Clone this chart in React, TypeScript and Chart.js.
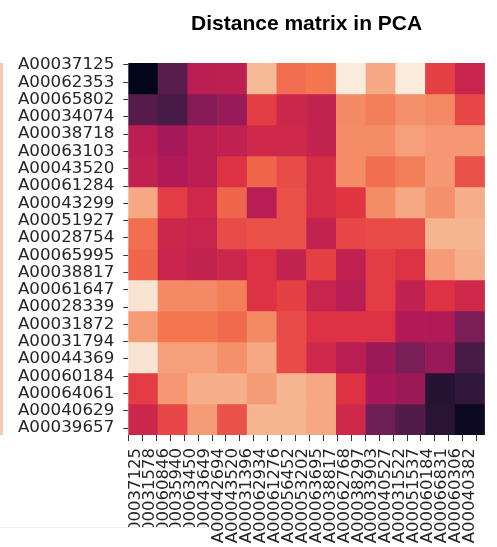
import React, { useEffect, useRef } from "react";
import { Chart, registerables } from "chart.js";

Chart.register(...registerables);

const chartTitle = "Distance matrix in PCA";

const yLabels = [
  "A00037125", "A00062353", "A00065802", "A00034074", "A00038718", "A00063103",
  "A00043520", "A00061284", "A00043299", "A00051927", "A00028754", "A00065995",
  "A00038817", "A00061647", "A00028339", "A00031872", "A00031794", "A00044369",
  "A00060184", "A00064061", "A00040629", "A00039657",
];

const xLabels = [
  "A00037125", "A00031578", "A00060846", "A00035940", "A00063450", "A00043649",
  "A00042694", "A00043520", "A00031396", "A00062934", "A00061276", "A00056452",
  "A00053202", "A00063695", "A00038817", "A00062768", "A00038297", "A00033903",
  "A00040527", "A00031522", "A00051537", "A00060184", "A00066831", "A00060306",
  "A00040382",
];

const cellColumns = ["c0", "c1", "c2", "c3", "c4", "c5", "c6", "c7", "c8", "c9", "c10", "c11"];

// normalised distance values per block row (0 = closest, 1 = farthest)
const row0 = [0.0, 0.23, 0.465, 0.47, 0.87, 0.7, 0.715, 1.0, 0.83, 1.0, 0.6, 0.5];
const row1 = [0.22, 0.19, 0.34, 0.38, 0.59, 0.51, 0.49, 0.76, 0.735, 0.775, 0.76, 0.615];
const row2 = [0.465, 0.41, 0.465, 0.48, 0.52, 0.52, 0.49, 0.765, 0.765, 0.81, 0.79, 0.79];
const row3 = [0.48, 0.44, 0.465, 0.56, 0.68, 0.625, 0.54, 0.765, 0.7, 0.735, 0.79, 0.635];
const row4 = [0.83, 0.59, 0.52, 0.68, 0.46, 0.635, 0.54, 0.575, 0.765, 0.83, 0.775, 0.845];
const row5 = [0.7, 0.51, 0.5, 0.625, 0.635, 0.635, 0.49, 0.615, 0.625, 0.625, 0.86, 0.86];
const row6 = [0.68, 0.5, 0.49, 0.51, 0.56, 0.49, 0.6, 0.48, 0.59, 0.56, 0.8, 0.845];
const row7 = [0.98, 0.76, 0.76, 0.735, 0.56, 0.6, 0.5, 0.46, 0.59, 0.48, 0.56, 0.52];
const row8 = [0.8, 0.715, 0.715, 0.69, 0.76, 0.625, 0.56, 0.56, 0.56, 0.44, 0.44, 0.31];
const row9 = [0.98, 0.81, 0.81, 0.775, 0.83, 0.625, 0.52, 0.46, 0.39, 0.31, 0.38, 0.19];
const row10 = [0.59, 0.79, 0.845, 0.845, 0.8, 0.86, 0.83, 0.56, 0.42, 0.39, 0.1, 0.13];
const row11 = [0.51, 0.615, 0.8, 0.635, 0.86, 0.86, 0.83, 0.52, 0.28, 0.21, 0.11, 0.03];

const distanceRows = [row0, row1, row2, row3, row4, row5, row6, row7, row8, row9, row10, row11];

// seaborn "rocket" colormap stops
const rocketStops: [number, number[]][] = [
  [0.0, [3, 5, 26]],
  [0.143, [53, 25, 62]],
  [0.286, [112, 31, 87]],
  [0.429, [173, 23, 89]],
  [0.571, [225, 51, 66]],
  [0.714, [243, 118, 81]],
  [0.857, [246, 180, 143]],
  [1.0, [250, 235, 221]],
];

function rocket(v: number): string {
  const t = Math.max(0, Math.min(1, v));
  for (let i = 0; i < rocketStops.length - 1; i++) {
    const [p0, c0] = rocketStops[i];
    const [p1, c1] = rocketStops[i + 1];
    if (t <= p1) {
      const f = (t - p0) / (p1 - p0);
      const c = c0.map((a, k) => Math.round(a + (c1[k] - a) * f));
      return `rgb(${c[0]},${c[1]},${c[2]})`;
    }
  }
  const last = rocketStops[rocketStops.length - 1][1];
  return `rgb(${last[0]},${last[1]},${last[2]})`;
}

const titlePlugin = {
  id: "centeredTitle",
  afterDraw(chart: any) {
    const { ctx, chartArea } = chart;
    ctx.save();
    ctx.font = 'bold 21px "Liberation Sans", Arial, sans-serif';
    ctx.fillStyle = "#000";
    ctx.textAlign = "center";
    ctx.textBaseline = "alphabetic";
    ctx.fillText(chartTitle, (chartArea.left + chartArea.right) / 2, 29.5);
    ctx.restore();
  },
};

export default function App() {
  const canvasRef = useRef<HTMLCanvasElement | null>(null);

  useEffect(() => {
    if (!canvasRef.current) return;
    const datasets = distanceRows.map((vals, r) => ({
      type: "bar" as const,
      label: `row${r}`,
      data: vals.map(() => [r, r + 1]),
      backgroundColor: vals.map(rocket),
      borderWidth: 0,
      barPercentage: 1,
      categoryPercentage: 1,
      grouped: false,
      xAxisID: "cx",
      yAxisID: "cy",
    }));

    const chart = new Chart(canvasRef.current, {
      type: "bar",
      data: { labels: cellColumns, datasets: datasets as any },
      options: {
        animation: false,
        responsive: false,
        layout: { padding: { top: 63, left: 0, right: 0, bottom: 0 } },
        plugins: {
          legend: { display: false },
          tooltip: { enabled: false },
          title: { display: false },
        },
        scales: {
          cx: { type: "category", display: false, offset: true },
          cy: { type: "linear", display: false, min: 0, max: 12, reverse: true },
          x: {
            type: "linear",
            position: "bottom",
            min: 0,
            max: 24.58,
            afterBuildTicks: (s: any) => {
              s.ticks = xLabels.map((_, i) => ({ value: i }));
            },
            afterFit: (s: any) => {
              s.height = 112;
            },
            ticks: {
              autoSkip: false,
              minRotation: 90,
              maxRotation: 90,
              padding: 7,
              color: "#262626",
              font: { family: "DejaVu Sans", size: 16.5 },
              callback: (v: any) => xLabels[Math.round(Number(v))] ?? "",
            },
            grid: { drawOnChartArea: false, drawTicks: true, tickLength: 6, tickColor: "#333", tickWidth: 1 },
            border: { display: false },
          },
          y: {
            type: "linear",
            position: "left",
            min: -0.115,
            max: 21.4,
            reverse: true,
            afterBuildTicks: (s: any) => {
              s.ticks = yLabels.map((_, i) => ({ value: i }));
            },
            afterFit: (s: any) => {
              s.width = 128.3;
            },
            ticks: {
              autoSkip: false,
              padding: 9,
              color: "#262626",
              font: { family: "DejaVu Sans", size: 16.7 },
              callback: (v: any) => yLabels[Math.round(Number(v))] ?? "",
            },
            grid: { drawOnChartArea: false, drawTicks: true, tickLength: 5, tickColor: "#333", tickWidth: 1 },
            border: { display: false },
          },
        } as any,
      },
      plugins: [titlePlugin],
    });
    return () => chart.destroy();
  }, []);

  return (
    <div style={{ position: "fixed", left: 0, top: 0, width: 497, height: 547, background: "#fff", overflow: "hidden" }}>
      <canvas ref={canvasRef} width={497} height={547} style={{ width: 497, height: 547, display: "block" }} />
      <div style={{ position: "absolute", left: 0, top: 63, width: 3, height: 372, background: "#f7c9b0" }} />
      <div style={{ position: "absolute", left: 0, top: 527, width: 210, height: 20, background: "#fff", borderTop: "1px solid #eee" }} />
    </div>
  );
}
